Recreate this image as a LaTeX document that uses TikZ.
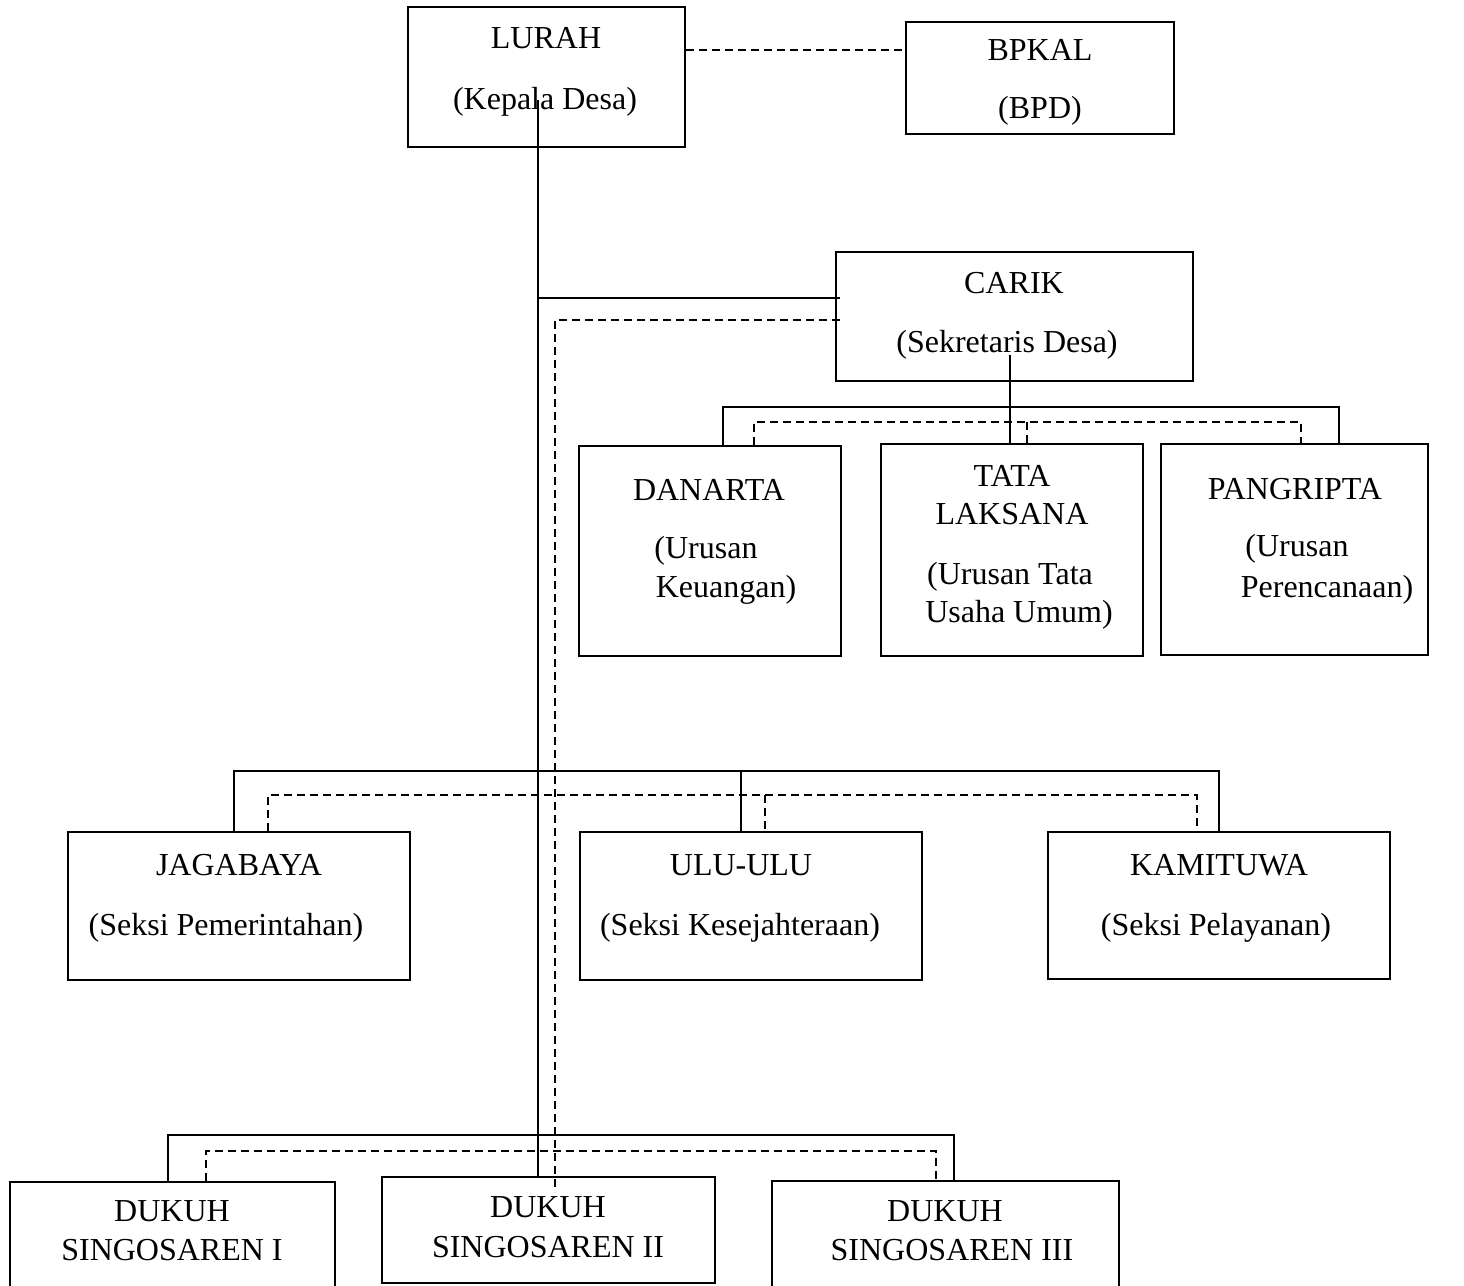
\documentclass[tikz,border=0pt]{standalone}
\usepackage{fontspec}
\setmainfont{Liberation Serif}
\tikzset{
    orgbox/.style={
        rectangle,
        draw=black,
        fill=white,
        line width=2.4pt,
        inner sep=0pt
    },
    boxtext/.style={
        font=\fontsize{32}{37}\selectfont,
        text=black,
        inner sep=0pt
    },
    link/.style={
        draw=black,
        line width=1.1pt
    },
    dashlink/.style={
        draw=black,
        line width=1.6pt,
        dash pattern=on 8pt off 5pt
    }
}

\begin{document}
\begin{tikzpicture}[x=1pt,y=-1pt]
    % Page frame
    \clip (0,0) rectangle (1464,1285);
    \fill[white] (0,0) rectangle (1464,1285);

    % Junction points
    \coordinate (lurah-tap) at (538,100);
    \coordinate (carik-in) at (840,298);
    \coordinate (carik-dash) at (840,320);
    \coordinate (spine-d) at (555,320);
    \coordinate (spine-end) at (555,1192);
    \coordinate (carik-tap) at (1010,355);
    \coordinate (dan-s) at (723,407);
    \coordinate (pan-s) at (1339,407);
    \coordinate (dan-d) at (754,422);
    \coordinate (tata-d) at (1027,422);
    \coordinate (pan-d) at (1301,422);
    \coordinate (jag-s) at (234,771);
    \coordinate (ulu-s) at (741,771);
    \coordinate (kam-s) at (1219,771);
    \coordinate (jag-d) at (268,795);
    \coordinate (ulu-d) at (765,795);
    \coordinate (kam-d) at (1197,795);
    \coordinate (d1-s) at (168,1135);
    \coordinate (d3-s) at (954,1135);
    \coordinate (d1-d) at (206,1151);
    \coordinate (d3-d) at (936,1151);

    % Boxes
    \node[orgbox, minimum width=277pt, minimum height=140pt] (lurah) at (546.5,77) {};
    \node[orgbox, minimum width=268pt, minimum height=112pt] (bpkal) at (1040,78) {};
    \node[orgbox, minimum width=357pt, minimum height=129pt] (carik) at (1014.5,316.5) {};
    \node[orgbox, minimum width=262pt, minimum height=210pt] (danarta) at (710,551) {};
    \node[orgbox, minimum width=262pt, minimum height=212pt] (tata) at (1012,550) {};
    \node[orgbox, minimum width=267pt, minimum height=211pt] (pangripta) at (1294.5,549.5) {};
    \node[orgbox, minimum width=342pt, minimum height=148pt] (jagabaya) at (239,906) {};
    \node[orgbox, minimum width=342pt, minimum height=148pt] (ulu) at (751,906) {};
    \node[orgbox, minimum width=342pt, minimum height=147pt] (kamituwa) at (1219,905.5) {};
    \node[orgbox, minimum width=325pt, minimum height=118pt] (dukuh1) at (172.5,1241) {};
    \node[orgbox, minimum width=333pt, minimum height=106pt] (dukuh2) at (548.5,1230) {};
    \node[orgbox, minimum width=347pt, minimum height=119pt] (dukuh3) at (945.5,1240.5) {};

    % Lurah and BPKAL
    \draw[dashlink] (lurah.east |- 0,50) -- (bpkal.west |- 0,50);

    % Main spine from Lurah
    \draw[link] (lurah-tap) -- (dukuh2.north -| lurah-tap);
    \draw[link] (carik-in -| lurah-tap) -- (carik-in);
    \draw[dashlink] (carik-dash) -- (spine-d) -- (spine-end);

    % Carik staff
    \draw[link] (carik-tap) -- (tata.north -| carik-tap);
    \draw[link] (danarta.north -| dan-s) -- (dan-s) -- (pan-s) -- (pangripta.north -| pan-s);
    \draw[dashlink] (danarta.north -| dan-d) -- (dan-d) -- (pan-d) -- (pangripta.north -| pan-d);
    \draw[dashlink] (tata-d) -- (tata.north -| tata-d);

    % Seksi
    \draw[link] (jagabaya.north -| jag-s) -- (jag-s) -- (kam-s) -- (kamituwa.north -| kam-s);
    \draw[link] (ulu-s) -- (ulu.north -| ulu-s);
    \draw[dashlink] (jagabaya.north -| jag-d) -- (jag-d) -- (kam-d) -- (kamituwa.north -| kam-d);
    \draw[dashlink] (ulu-d) -- (ulu.north -| ulu-d);

    % Dukuh
    \draw[link] (dukuh1.north -| d1-s) -- (d1-s) -- (d3-s) -- (dukuh3.north -| d3-s);
    \draw[dashlink] (dukuh1.north -| d1-d) -- (d1-d) -- (d3-d) -- (dukuh3.north -| d3-d);

    % Labels
    \node[boxtext] (lurah-t1) at (546,38) {LURAH};
    \node[boxtext] (lurah-t2) at (545,102) {(Kepala Desa)};
    \node[boxtext] (bpkal-t1) at (1040,50) {BPKAL};
    \node[boxtext] (bpkal-t2) at (1040,111) {(BPD)};
    \node[boxtext] (carik-t1) at (1014,283) {CARIK};
    \node[boxtext] (carik-t2) at (1007,345) {(Sekretaris Desa)};
    \node[boxtext] (danarta-t1) at (709,490) {DANARTA};
    \node[boxtext] (danarta-t2) at (706,551) {(Urusan};
    \node[boxtext] (danarta-t3) at (726,590) {Keuangan)};
    \node[boxtext] (tata-t1) at (1012,476) {TATA};
    \node[boxtext] (tata-t2) at (1012,514) {LAKSANA};
    \node[boxtext] (tata-t3) at (1010,577) {(Urusan Tata};
    \node[boxtext] (tata-t4) at (1019,615) {Usaha Umum)};
    \node[boxtext] (pangripta-t1) at (1295,489) {PANGRIPTA};
    \node[boxtext] (pangripta-t2) at (1297,549) {(Urusan};
    \node[boxtext] (pangripta-t3) at (1327,590) {Perencanaan)};
    \node[boxtext] (jagabaya-t1) at (239,865) {JAGABAYA};
    \node[boxtext] (jagabaya-t2) at (226,928) {(Seksi Pemerintahan)};
    \node[boxtext] (ulu-t1) at (741,865) {ULU-ULU};
    \node[boxtext] (ulu-t2) at (740,928) {(Seksi Kesejahteraan)};
    \node[boxtext] (kamituwa-t1) at (1219,865) {KAMITUWA};
    \node[boxtext] (kamituwa-t2) at (1216,928) {(Seksi Pelayanan)};
    \node[boxtext] (dukuh1-t1) at (172,1211) {DUKUH};
    \node[boxtext] (dukuh1-t2) at (172,1250) {SINGOSAREN I};
    \node[boxtext] (dukuh2-t1) at (548,1207) {DUKUH};
    \node[boxtext] (dukuh2-t2) at (548,1247) {SINGOSAREN II};
    \node[boxtext] (dukuh3-t1) at (945,1211) {DUKUH};
    \node[boxtext] (dukuh3-t2) at (952,1250) {SINGOSAREN III};

\end{tikzpicture}
\end{document}
